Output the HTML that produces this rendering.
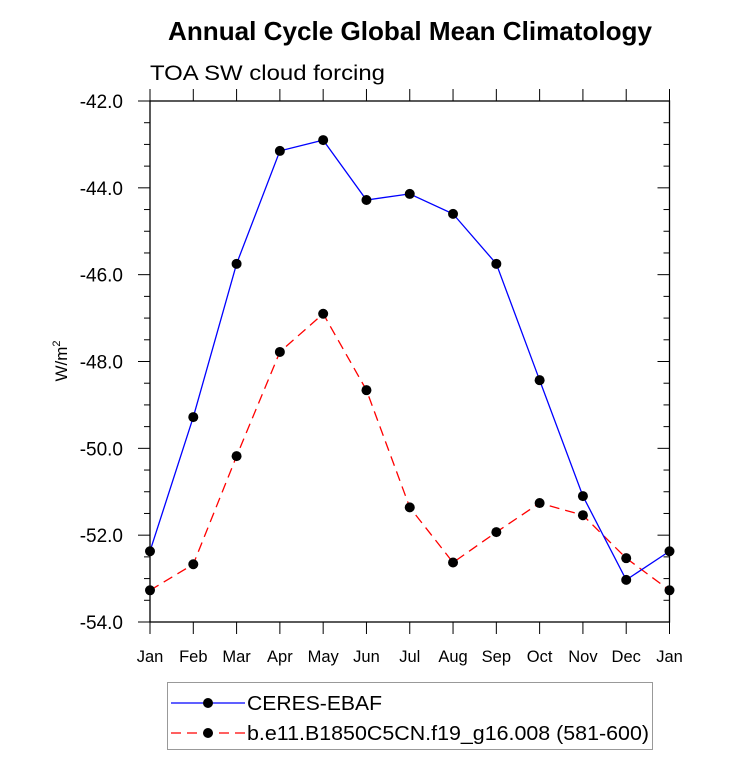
<!DOCTYPE html>
<html><head><meta charset="utf-8"><style>
body{margin:0;background:#fff;}
svg{display:block;font-family:"Liberation Sans",Arial,sans-serif;}
</style></head><body>
<svg id="chart" width="733" height="772" viewBox="0 0 733 772">
<rect width="733" height="772" fill="#fff"/>
<text x="410" y="40" text-anchor="middle" font-size="26" font-weight="bold" textLength="484" lengthAdjust="spacingAndGlyphs">Annual Cycle Global Mean Climatology</text>
<text x="150" y="80" font-size="21" textLength="235" lengthAdjust="spacingAndGlyphs">TOA SW cloud forcing</text>
<text transform="translate(67,361) rotate(-90)" text-anchor="middle" font-size="17">W/m<tspan dy="-7" font-size="11">2</tspan></text>
<g id="axes"></g>
<g id="series"></g>
<g>
<rect x="167.5" y="682.5" width="485" height="67" fill="#fff" stroke="#999" stroke-width="1"/>
<g>
<line x1="171" y1="703" x2="245" y2="703" stroke="#0000ff" stroke-width="1.3"/>
<circle cx="208" cy="703" r="5" fill="#000"/>
<text x="247" y="710" font-size="20" textLength="135" lengthAdjust="spacingAndGlyphs">CERES-EBAF</text>
</g>
<g>
<line x1="171" y1="733" x2="245" y2="733" stroke="#ff0000" stroke-width="1.3" stroke-dasharray="10,6"/>
<circle cx="208" cy="733" r="5" fill="#000"/>
<text x="247" y="740" font-size="20" textLength="402" lengthAdjust="spacingAndGlyphs">b.e11.B1850C5CN.f19_g16.008 (581-600)</text>
</g>
</g>
</svg>
<script>
const months = ["Jan","Feb","Mar","Apr","May","Jun","Jul","Aug","Sep","Oct","Nov","Dec","Jan"];
const ceres = [-52.37,-49.28,-45.75,-43.15,-42.9,-44.28,-44.14,-44.6,-45.75,-48.43,-51.1,-53.03,-52.37];
const model = [-53.27,-52.67,-50.18,-47.78,-46.9,-48.66,-51.36,-52.63,-51.93,-51.26,-51.54,-52.53,-53.27];
const yTicks = [-42,-44,-46,-48,-50,-52,-54];
const yTickLabels = ["-42.0","-44.0","-46.0","-48.0","-50.0","-52.0","-54.0"];

const NS="http://www.w3.org/2000/svg";
const L=150,R=669.5,T=101,B=622,yMax=-42,yMin=-54;
const xs=i=>L+(R-L)*i/(months.length-1);
const ys=v=>T+(yMax-v)/(yMax-yMin)*(B-T);
function mk(tag,attrs,parent){const e=document.createElementNS(NS,tag);for(const k in attrs)e.setAttribute(k,attrs[k]);parent.appendChild(e);return e;}
const ax=document.getElementById('axes');
const frame=mk('rect',{x:L,y:T,width:R-L,height:B-T,fill:'none',stroke:'#000','stroke-width':1.3},ax);


for(let v=yMax;v>=yMin-0.001;v-=0.5){
  const y=ys(v);const major=Math.abs(v-Math.round(v))<0.01&&Math.round(v)%2===0;
  const len=major?12:6;
  mk('line',{x1:L-len,y1:y,x2:L,y2:y,stroke:'#000','stroke-width':1},ax);
  mk('line',{x1:R,y1:y,x2:R-len,y2:y,stroke:'#000','stroke-width':1},ax);
}
yTicks.forEach((v,i)=>{
  const t=mk('text',{x:L-27,y:ys(v)+7,'text-anchor':'end','font-size':19},ax);
  t.textContent=yTickLabels[i];
  
  
});
months.forEach((m,i)=>{
  const x=xs(i);
  mk('line',{x1:x,y1:B,x2:x,y2:B+12,stroke:'#000','stroke-width':1},ax);
  mk('line',{x1:x,y1:T,x2:x,y2:T-12,stroke:'#000','stroke-width':1},ax);
  const t=mk('text',{x:x,y:B+40,'text-anchor':'middle','font-size':16.5},ax);
  t.textContent=m;
  
  
});
const sg=document.getElementById('series');
function series(vals,color,dash,name){
  const g=mk('g',{},sg);
  
  
  const pts=vals.map((v,i)=>xs(i)+','+ys(v)).join(' ');
  const a={points:pts,fill:'none',stroke:color,'stroke-width':1.3};
  if(dash)a['stroke-dasharray']=dash;
  mk('polyline',a,g);
  vals.forEach((v,i)=>{
    const c=mk('circle',{cx:xs(i),cy:ys(v),r:5,fill:'#000'},g);
    
    
  });
}
series(model,'#ff0000','10,6','model-series');
series(ceres,'#0000ff',null,'ceres-series');
</script>
</body></html>
